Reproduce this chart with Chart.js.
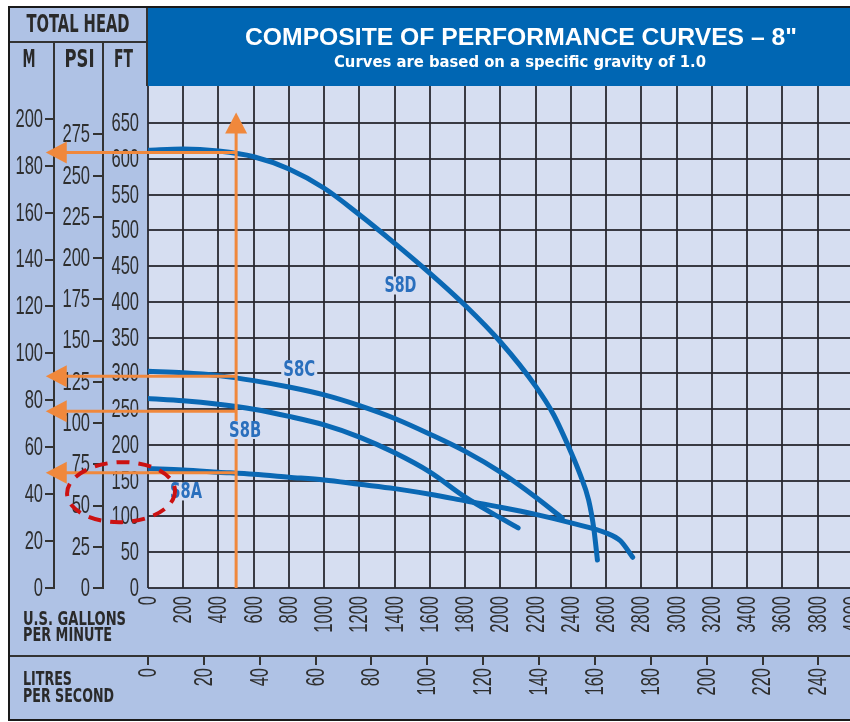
<!DOCTYPE html>
<html>
<head>
<meta charset="utf-8">
<title>Composite of Performance Curves – 8"</title>
<script src="https://cdn.jsdelivr.net/npm/chart.js@4.4.1/dist/chart.umd.min.js"></script>
<style>
  html, body { margin: 0; padding: 0; background: #fff; }
  #wrap { width: 850px; height: 722px; }
</style>
</head>
<body>
<div id="wrap"><canvas id="curves" width="850" height="722"></canvas></div>
<script>
// Pump curves: flow in US GPM, head in feet
const s8aFlow = [0, 200, 400, 600, 800, 1000, 1200, 1400, 1600, 1800, 2000, 2200, 2400, 2600, 2680, 2750];
const s8aHead = [167, 165, 162, 159, 155, 151, 145, 139, 131, 122, 113, 103, 91, 77, 66, 43];

const s8bFlow = [0, 200, 400, 600, 800, 1000, 1200, 1400, 1600, 1800, 2000, 2100];
const s8bHead = [265, 262, 257, 250, 240, 228, 211, 189, 162, 127, 98, 84];

const s8cFlow = [0, 200, 400, 600, 800, 1000, 1200, 1400, 1600, 1800, 2000, 2200, 2350];
const s8cHead = [303, 301, 297, 290, 281, 270, 255, 237, 215, 191, 162, 127, 98];

const s8dFlow = [0, 200, 400, 600, 800, 1000, 1200, 1400, 1600, 1800, 2000, 2200, 2300, 2400, 2450, 2500, 2530, 2550];
const s8dHead = [612, 614, 611, 603, 586, 559, 522, 482, 440, 395, 344, 282, 243, 190, 160, 123, 82, 39];

const curveNames = ['S8A', 'S8B', 'S8C', 'S8D'];
// where each name sits (GPM, FT)
const nameFlow = [216, 551, 858, 1432];
const nameHead = [135, 221, 306, 423];

// duty point lines (orange arrows)
const dutyFlow = 500;
const dutyHeads = [161, 247, 296, 609];
const dutyTopHead = 665;
const arrowTipFlow = -580;

// tick values for each axis
const ftTicks = [0, 50, 100, 150, 200, 250, 300, 350, 400, 450, 500, 550, 600, 650];
const psiTicks = [0, 25, 50, 75, 100, 125, 150, 175, 200, 225, 250, 275];
const mTicks = [0, 20, 40, 60, 80, 100, 120, 140, 160, 180, 200];
const gpmTicks = [0, 200, 400, 600, 800, 1000, 1200, 1400, 1600, 1800, 2000, 2200, 2400, 2600, 2800, 3000, 3200, 3400, 3600, 3800, 4000];
const lpsTicks = [0, 20, 40, 60, 80, 100, 120, 140, 160, 180, 200, 220, 240];

// unit conversions and visible ranges
const FT_PER_M = 3.28084;
const FT_PER_PSI = 2.3067;
const GPM_PER_LPS = 15.8503;
const FT_MAX = 702;
const GPM_MAX = 3983;

// colours
const PANEL = '#afc2e5';
const PLOT_BG = '#d6def1';
const TITLE_BLUE = '#0066b3';
const CURVE_BLUE = '#0a68b4';
const LABEL_BLUE = '#2a6fbd';
const ORANGE = '#f0883c';
const RED = '#cc1111';
const INK = '#2a2a2a';
const TICK_INK = '#2e2e2e';
const GRID = 'rgba(40, 40, 48, 0.9)';

const NARROW = '"Liberation Sans Narrow", "DejaVu Sans Condensed", "Arial Narrow", sans-serif';
const SANS = '"Liberation Sans", Arial, Helvetica, sans-serif';
const TICK_FONT = '25px ' + SANS;
const SQUEEZE = 0.66;

function points(flow, head) {
    return flow.map((f, i) => ({ x: f, y: head[i] }));
}

// draw text squeezed/stretched to a given width
function fitText(ctx, text, x, y, width, font, align) {
    ctx.save();
    ctx.font = font;
    const k = width / ctx.measureText(text).width;
    ctx.translate(x, y);
    ctx.scale(k, 1);
    ctx.textAlign = align || 'center';
    ctx.textBaseline = 'middle';
    ctx.fillText(text, 0, 0);
    ctx.restore();
}

// condensed tick label, optionally turned to read bottom-to-top
function tickText(ctx, text, x, y, upright) {
    ctx.save();
    ctx.translate(x, y);
    if (upright) ctx.rotate(-Math.PI / 2);
    ctx.scale(SQUEEZE, 1);
    ctx.textAlign = 'right';
    ctx.textBaseline = 'middle';
    ctx.fillText(text, 0, 1);
    ctx.restore();
}

function arrowHead(ctx, tx, ty, dx, dy) {
    // triangle pointing along (dx, dy), tip at (tx, ty)
    const len = 21, half = 11;
    const bx = tx - dx * len, by = ty - dy * len;
    ctx.beginPath();
    ctx.moveTo(tx, ty);
    ctx.lineTo(bx - dy * half, by + dx * half);
    ctx.lineTo(bx + dy * half, by - dx * half);
    ctx.closePath();
    ctx.fill();
}

// background panels, header and title bar
const framePlugin = {
    id: 'frame',
    beforeDraw(chart) {
        const ctx = chart.ctx;
        const a = chart.chartArea;
        const s = chart.scales;
        const W = chart.width;
        ctx.save();
        ctx.fillStyle = '#fff';
        ctx.fillRect(0, 0, W, chart.height);
        ctx.fillStyle = PANEL;
        ctx.fillRect(10, 8, W - 10, 712);
        ctx.fillStyle = PLOT_BG;
        ctx.fillRect(a.left, a.top, a.right - a.left, a.bottom - a.top);
        ctx.fillStyle = TITLE_BLUE;
        ctx.fillRect(a.left - 1, 8, W - a.left + 1, a.top - 8);

        // outer frame
        ctx.strokeStyle = '#1a1a1a';
        ctx.lineWidth = 2;
        ctx.beginPath();
        ctx.moveTo(9, 721); ctx.lineTo(9, 7); ctx.lineTo(W, 7);
        ctx.moveTo(9, 720); ctx.lineTo(W, 720);
        ctx.stroke();

        // header cells
        ctx.strokeStyle = '#333';
        ctx.beginPath();
        ctx.moveTo(10, 42); ctx.lineTo(a.left - 1, 42);
        ctx.moveTo(a.left - 1, 8); ctx.lineTo(a.left - 1, a.top);
        ctx.moveTo(s.m.right, 42); ctx.lineTo(s.m.right, a.top);
        ctx.moveTo(s.psi.right, 42); ctx.lineTo(s.psi.right, a.top);
        // litres row separator
        ctx.moveTo(10, s.lps.top); ctx.lineTo(W, s.lps.top);
        ctx.stroke();

        ctx.fillStyle = INK;
        fitText(ctx, 'TOTAL HEAD', 78, 25, 103, 'bold 25px ' + NARROW);
        fitText(ctx, 'M', (10 + s.m.right) / 2 - 3, 60, 13, 'bold 25px ' + NARROW);
        fitText(ctx, 'PSI', (s.m.right + s.psi.right) / 2 + 1, 60, 30, 'bold 25px ' + NARROW);
        fitText(ctx, 'FT', (s.psi.right + a.left) / 2 - 2, 60, 19, 'bold 25px ' + NARROW);

        fitText(ctx, 'U.S. GALLONS', 23, 620, 103, 'bold 20px ' + NARROW, 'left');
        fitText(ctx, 'PER MINUTE', 23, 636, 89, 'bold 20px ' + NARROW, 'left');
        fitText(ctx, 'LITRES', 23, 680, 49, 'bold 20px ' + NARROW, 'left');
        fitText(ctx, 'PER SECOND', 23, 697, 91, 'bold 20px ' + NARROW, 'left');

        ctx.fillStyle = '#fff';
        fitText(ctx, 'COMPOSITE OF PERFORMANCE CURVES \u2013 8"', 521, 38, 552, 'bold 24px ' + SANS);
        fitText(ctx, 'Curves are based on a specific gravity of 1.0', 520, 63, 372, 'bold 16px ' + NARROW);
        ctx.restore();
    },
    // tick labels, drawn condensed like the printed chart
    beforeDatasetsDraw(chart) {
        const ctx = chart.ctx;
        const s = chart.scales;
        ctx.save();
        ctx.font = TICK_FONT;
        ctx.fillStyle = TICK_INK;
        ftTicks.forEach(v => tickText(ctx, String(v), s.y.right - 9, s.y.getPixelForValue(v), false));
        psiTicks.forEach(v => tickText(ctx, String(v), s.psi.right - 13, s.psi.getPixelForValue(v), false));
        mTicks.forEach(v => tickText(ctx, String(v), s.m.right - 11, s.m.getPixelForValue(v), false));
        gpmTicks.forEach(v => tickText(ctx, String(v), s.x.getPixelForValue(v), s.x.top + 8, true));
        lpsTicks.forEach(v => tickText(ctx, String(v), s.lps.getPixelForValue(v), s.lps.top + 12, true));
        ctx.restore();
    }
};

// duty point arrows, curve names and the red ring
const markupPlugin = {
    id: 'markup',
    afterDatasetsDraw(chart) {
        const ctx = chart.ctx;
        const x = chart.scales.x, y = chart.scales.y;
        ctx.save();
        ctx.strokeStyle = ORANGE;
        ctx.fillStyle = ORANGE;
        ctx.lineWidth = 3;
        const dx = x.getPixelForValue(dutyFlow);
        const topY = y.getPixelForValue(dutyTopHead);
        ctx.beginPath();
        ctx.moveTo(dx, y.getPixelForValue(0));
        ctx.lineTo(dx, topY + 15);
        ctx.stroke();
        arrowHead(ctx, dx, topY, 0, -1);
        const tipX = x.getPixelForValue(arrowTipFlow);
        dutyHeads.forEach(h => {
            const hy = y.getPixelForValue(h);
            ctx.beginPath();
            ctx.moveTo(dx, hy);
            ctx.lineTo(tipX + 15, hy);
            ctx.stroke();
            arrowHead(ctx, tipX, hy, -1, 0);
        });

        // curve names
        curveNames.forEach((name, i) => {
            const px = x.getPixelForValue(nameFlow[i]);
            const py = y.getPixelForValue(nameHead[i]);
            ctx.fillStyle = PLOT_BG;
            ctx.fillRect(px - 18, py - 9, 36, 18);
            ctx.fillStyle = LABEL_BLUE;
            fitText(ctx, name, px, py + 1, 32, 'bold 22px ' + NARROW);
        });

        // red dashed ring
        ctx.strokeStyle = RED;
        ctx.lineWidth = 4;
        ctx.setLineDash([13, 9]);
        ctx.beginPath();
        ctx.ellipse(x.getPixelForValue(-153), y.getPixelForValue(134), 54, 30, -0.03, 0, Math.PI * 2);
        ctx.stroke();
        ctx.restore();
    }
};

const hidden = { display: false };

const ctx = document.getElementById('curves').getContext('2d');
const chart = new Chart(ctx, {
    type: 'line',
    data: {
        datasets: [
            { label: 'S8A', data: points(s8aFlow, s8aHead) },
            { label: 'S8B', data: points(s8bFlow, s8bHead) },
            { label: 'S8C', data: points(s8cFlow, s8cHead) },
            { label: 'S8D', data: points(s8dFlow, s8dHead) }
        ].map(d => Object.assign(d, {
            borderColor: CURVE_BLUE,
            borderWidth: 5,
            borderCapStyle: 'round',
            pointRadius: 0,
            cubicInterpolationMode: 'monotone',
            fill: false
        }))
    },
    options: {
        responsive: false,
        animation: false,
        layout: { padding: { left: 10, top: 86, right: 0, bottom: 2 } },
        plugins: {
            legend: { display: false },
            tooltip: { enabled: false }
        },
        scales: {
            x: {
                type: 'linear',
                position: 'bottom',
                weight: 0,
                min: 0,
                max: GPM_MAX,
                afterFit: s => { s.height = 68; },
                afterBuildTicks: s => { s.ticks = gpmTicks.map(v => ({ value: v })); },
                grid: { color: GRID, lineWidth: 2, drawTicks: false },
                border: { display: false },
                ticks: hidden
            },
            lps: {
                type: 'linear',
                position: 'bottom',
                weight: 1,
                min: 0,
                max: GPM_MAX / GPM_PER_LPS,
                afterFit: s => { s.height = 64; },
                afterBuildTicks: s => { s.ticks = lpsTicks.map(v => ({ value: v })); },
                grid: { drawOnChartArea: false, tickLength: 9, tickColor: '#333', lineWidth: 2 },
                border: { display: false },
                ticks: hidden
            },
            y: {
                type: 'linear',
                position: 'left',
                weight: 0,
                min: 0,
                max: FT_MAX,
                afterFit: s => { s.width = 45; },
                afterBuildTicks: s => { s.ticks = ftTicks.map(v => ({ value: v })); },
                grid: { color: GRID, lineWidth: 2, drawTicks: false },
                border: { display: false },
                ticks: hidden
            },
            psi: {
                type: 'linear',
                position: 'left',
                weight: 1,
                min: 0,
                max: FT_MAX / FT_PER_PSI,
                afterFit: s => { s.width = 49; },
                afterBuildTicks: s => { s.ticks = psiTicks.map(v => ({ value: v })); },
                grid: { drawOnChartArea: false, tickLength: 10, tickColor: '#333', lineWidth: 2 },
                border: { display: true, color: '#333', width: 2 },
                ticks: hidden
            },
            m: {
                type: 'linear',
                position: 'left',
                weight: 2,
                min: 0,
                max: FT_MAX / FT_PER_M,
                afterFit: s => { s.width = 44; },
                afterBuildTicks: s => { s.ticks = mTicks.map(v => ({ value: v })); },
                grid: { drawOnChartArea: false, tickLength: 9, tickColor: '#333', lineWidth: 2 },
                border: { display: true, color: '#333', width: 2 },
                ticks: hidden
            }
        }
    },
    plugins: [framePlugin, markupPlugin]
});
</script>
</body>
</html>
